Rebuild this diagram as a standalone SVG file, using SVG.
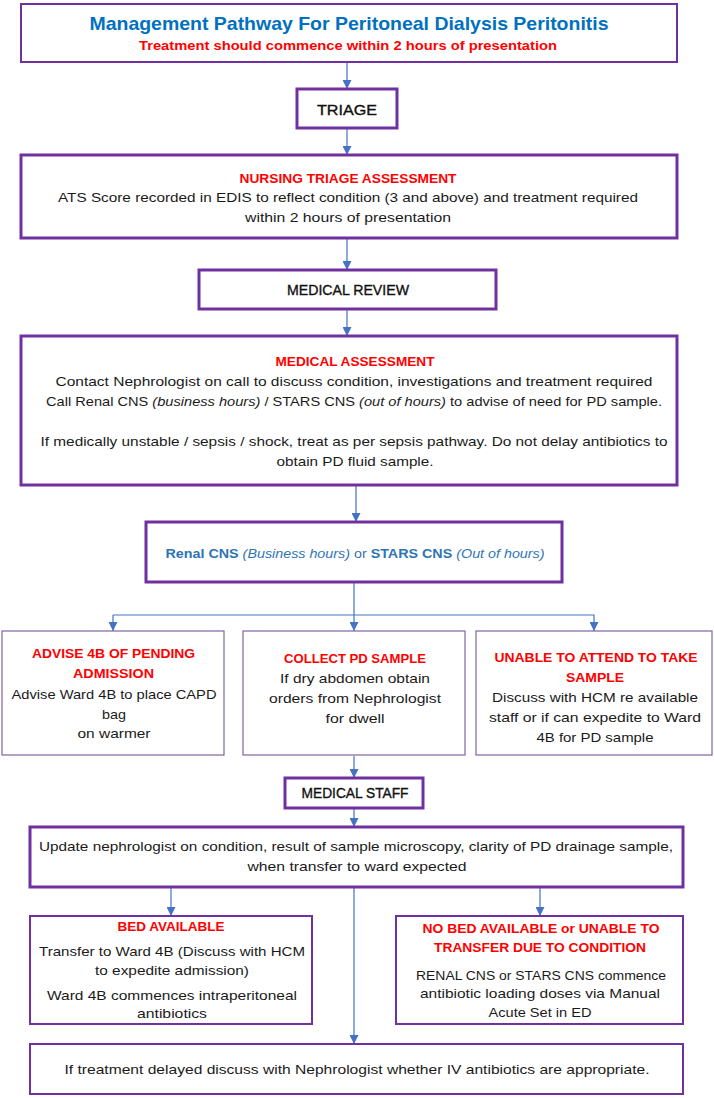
<svg xmlns="http://www.w3.org/2000/svg" width="714" height="1098" viewBox="0 0 714 1098">
<defs>
<marker id="ah" viewBox="0 0 10 10" refX="10" refY="5" markerWidth="9" markerHeight="9" markerUnits="userSpaceOnUse" orient="auto">
<path d="M0,0 L10,5 L0,10 z" fill="#4472C4"/>
</marker>
<style>
.thick{fill:#fff;stroke:#7030A0;stroke-width:3}
.mid{fill:#fff;stroke:#7030A0;stroke-width:2}
.thin{fill:#fff;stroke:#8064A2;stroke-width:1.2}
.con{fill:none;stroke:#4472C4;stroke-width:1.2}
.arr{fill:none;stroke:#4472C4;stroke-width:1.2;marker-end:url(#ah)}
text{font-family:"Liberation Sans",Arial,sans-serif;text-anchor:middle}
.b{font-size:13.5px;fill:#1a1a1a}
.h{font-size:13.5px;font-weight:bold;fill:#FF0000}
.lbl{font-size:14px;fill:#111;stroke:#111;stroke-width:0.35}
.t{font-size:19px;font-weight:bold;fill:#0070C0}
.cns{font-size:13.5px;fill:#2E74B5}
</style>
</defs>
<g id="connectors">
<line class="arr" x1="347" y1="62" x2="347" y2="89"/>
<line class="arr" x1="347" y1="128" x2="347" y2="155"/>
<line class="arr" x1="347" y1="238" x2="347" y2="270"/>
<line class="arr" x1="347" y1="309" x2="347" y2="336"/>
<line class="arr" x1="356" y1="486" x2="356" y2="522"/>
<polyline class="con" points="354,582 354,615"/>
<polyline class="arr" points="113,615 594,615 594,631"/>
<line class="arr" x1="113" y1="615" x2="113" y2="631"/>
<line class="arr" x1="354" y1="615" x2="354" y2="631"/>
<line class="arr" x1="354" y1="756" x2="354" y2="778"/>
<line class="arr" x1="354" y1="808" x2="354" y2="827"/>
<line class="arr" x1="171" y1="887" x2="171" y2="916"/>
<line class="arr" x1="540" y1="887" x2="540" y2="916"/>
<line class="arr" x1="354" y1="887" x2="354" y2="1044"/>
</g>
<g id="title">
<rect class="mid" x="21" y="4" width="656" height="58"/>
<text class="t" x="349" y="30" textLength="519" lengthAdjust="spacingAndGlyphs">Management Pathway For Peritoneal Dialysis Peritonitis</text>
<text class="h" x="348" y="49.5" textLength="418" lengthAdjust="spacingAndGlyphs">Treatment should commence within 2 hours of presentation</text>
</g>
<g id="triage">
<rect class="thick" x="297" y="89" width="100" height="39"/>
<text class="lbl" x="347" y="115" font-size="16" textLength="60" lengthAdjust="spacingAndGlyphs">TRIAGE</text>
</g>
<g id="nursing">
<rect class="thick" x="21" y="155" width="656" height="83"/>
<text class="h" x="348" y="182.5" textLength="217" lengthAdjust="spacingAndGlyphs">NURSING TRIAGE ASSESSMENT</text>
<text class="b" x="348" y="202" textLength="580" lengthAdjust="spacingAndGlyphs">ATS Score recorded in EDIS to reflect condition (3 and above) and treatment required</text>
<text class="b" x="348" y="221.5" textLength="206" lengthAdjust="spacingAndGlyphs">within 2 hours of presentation</text>
</g>
<g id="medical-review">
<rect class="thick" x="199" y="270" width="297" height="39"/>
<text class="lbl" x="348" y="295" font-size="13.5" textLength="122" lengthAdjust="spacingAndGlyphs">MEDICAL REVIEW</text>
</g>
<g id="medical-assessment">
<rect class="thick" x="21" y="336" width="656" height="149"/>
<text class="h" x="355" y="366" textLength="159" lengthAdjust="spacingAndGlyphs">MEDICAL ASSESSMENT</text>
<text class="b" x="354" y="386" textLength="597" lengthAdjust="spacingAndGlyphs">Contact Nephrologist on call to discuss condition, investigations and treatment required</text>
<text class="b" x="354" y="406" textLength="616" lengthAdjust="spacingAndGlyphs">Call Renal CNS <tspan font-style="italic">(business hours)</tspan> / STARS CNS <tspan font-style="italic">(out of hours)</tspan> to advise of need for PD sample.</text>
<text class="b" x="354" y="446" textLength="627" lengthAdjust="spacingAndGlyphs">If medically unstable / sepsis / shock, treat as per sepsis pathway. Do not delay antibiotics to</text>
<text class="b" x="355" y="466" textLength="157" lengthAdjust="spacingAndGlyphs">obtain PD fluid sample.</text>
</g>
<g id="cns">
<rect class="thick" x="146" y="522" width="416" height="60"/>
<text class="cns" x="355" y="558" textLength="379" lengthAdjust="spacingAndGlyphs"><tspan font-weight="bold">Renal CNS</tspan> <tspan font-style="italic">(Business hours)</tspan> or <tspan font-weight="bold">STARS CNS</tspan> <tspan font-style="italic">(Out of hours)</tspan></text>
</g>
<g id="advise-4b">
<rect class="thin" x="2" y="631" width="222" height="124"/>
<text class="h" x="113.5" y="658" textLength="163" lengthAdjust="spacingAndGlyphs">ADVISE 4B OF PENDING</text>
<text class="h" x="113.5" y="678" textLength="81" lengthAdjust="spacingAndGlyphs">ADMISSION</text>
<text class="b" x="114" y="699" textLength="205" lengthAdjust="spacingAndGlyphs">Advise Ward 4B to place CAPD</text>
<text class="b" x="114" y="719" textLength="24" lengthAdjust="spacingAndGlyphs">bag</text>
<text class="b" x="114" y="738" textLength="73" lengthAdjust="spacingAndGlyphs">on warmer</text>
</g>
<g id="collect-pd">
<rect class="thin" x="243" y="631" width="222" height="124"/>
<text class="h" x="355" y="663" textLength="142" lengthAdjust="spacingAndGlyphs">COLLECT PD SAMPLE</text>
<text class="b" x="355" y="683" textLength="150" lengthAdjust="spacingAndGlyphs">If dry abdomen obtain</text>
<text class="b" x="355" y="703" textLength="172" lengthAdjust="spacingAndGlyphs">orders from Nephrologist</text>
<text class="b" x="355" y="723" textLength="59" lengthAdjust="spacingAndGlyphs">for dwell</text>
</g>
<g id="unable-attend">
<rect class="thin" x="476" y="631" width="236" height="124"/>
<text class="h" x="596" y="662" textLength="203" lengthAdjust="spacingAndGlyphs">UNABLE TO ATTEND TO TAKE</text>
<text class="h" x="595" y="682" textLength="58" lengthAdjust="spacingAndGlyphs">SAMPLE</text>
<text class="b" x="595" y="702" textLength="206" lengthAdjust="spacingAndGlyphs">Discuss with  HCM re available</text>
<text class="b" x="595" y="722" textLength="212" lengthAdjust="spacingAndGlyphs">staff or if can expedite to Ward</text>
<text class="b" x="595" y="742" textLength="117" lengthAdjust="spacingAndGlyphs">4B for PD sample</text>
</g>
<g id="medical-staff">
<rect class="thick" x="285" y="778" width="138" height="30"/>
<text class="lbl" x="355" y="798" font-size="14" textLength="107" lengthAdjust="spacingAndGlyphs">MEDICAL STAFF</text>
</g>
<g id="update">
<rect class="thick" x="30" y="827" width="653" height="60"/>
<text class="b" x="356" y="851" textLength="634" lengthAdjust="spacingAndGlyphs">Update nephrologist on condition, result of sample microscopy, clarity of PD drainage sample,</text>
<text class="b" x="357" y="871" textLength="219" lengthAdjust="spacingAndGlyphs">when transfer to ward expected</text>
</g>
<g id="bed-available">
<rect class="mid" x="30" y="916" width="282" height="108"/>
<text class="h" x="171" y="931" textLength="107" lengthAdjust="spacingAndGlyphs">BED AVAILABLE</text>
<text class="b" x="172" y="956" textLength="266" lengthAdjust="spacingAndGlyphs">Transfer to Ward 4B (Discuss with  HCM</text>
<text class="b" x="172" y="975" textLength="154" lengthAdjust="spacingAndGlyphs">to expedite admission)</text>
<text class="b" x="172" y="1000" textLength="250" lengthAdjust="spacingAndGlyphs">Ward 4B commences intraperitoneal</text>
<text class="b" x="172" y="1018" textLength="70" lengthAdjust="spacingAndGlyphs">antibiotics</text>
</g>
<g id="no-bed">
<rect class="mid" x="396" y="916" width="287" height="108"/>
<text class="h" x="541" y="933" textLength="237" lengthAdjust="spacingAndGlyphs">NO BED AVAILABLE or UNABLE TO</text>
<text class="h" x="540" y="952" textLength="212" lengthAdjust="spacingAndGlyphs">TRANSFER DUE TO CONDITION</text>
<text class="b" x="541" y="980" textLength="250" lengthAdjust="spacingAndGlyphs">RENAL CNS or STARS CNS commence</text>
<text class="b" x="540" y="998" textLength="240" lengthAdjust="spacingAndGlyphs">antibiotic loading doses via Manual</text>
<text class="b" x="540" y="1017" textLength="103" lengthAdjust="spacingAndGlyphs">Acute Set in ED</text>
</g>
<g id="iv-antibiotics">
<rect class="mid" x="30" y="1044" width="653" height="50"/>
<text class="b" x="357" y="1074" textLength="585" lengthAdjust="spacingAndGlyphs">If treatment delayed discuss with Nephrologist whether IV antibiotics are appropriate.</text>
</g>
</svg>
